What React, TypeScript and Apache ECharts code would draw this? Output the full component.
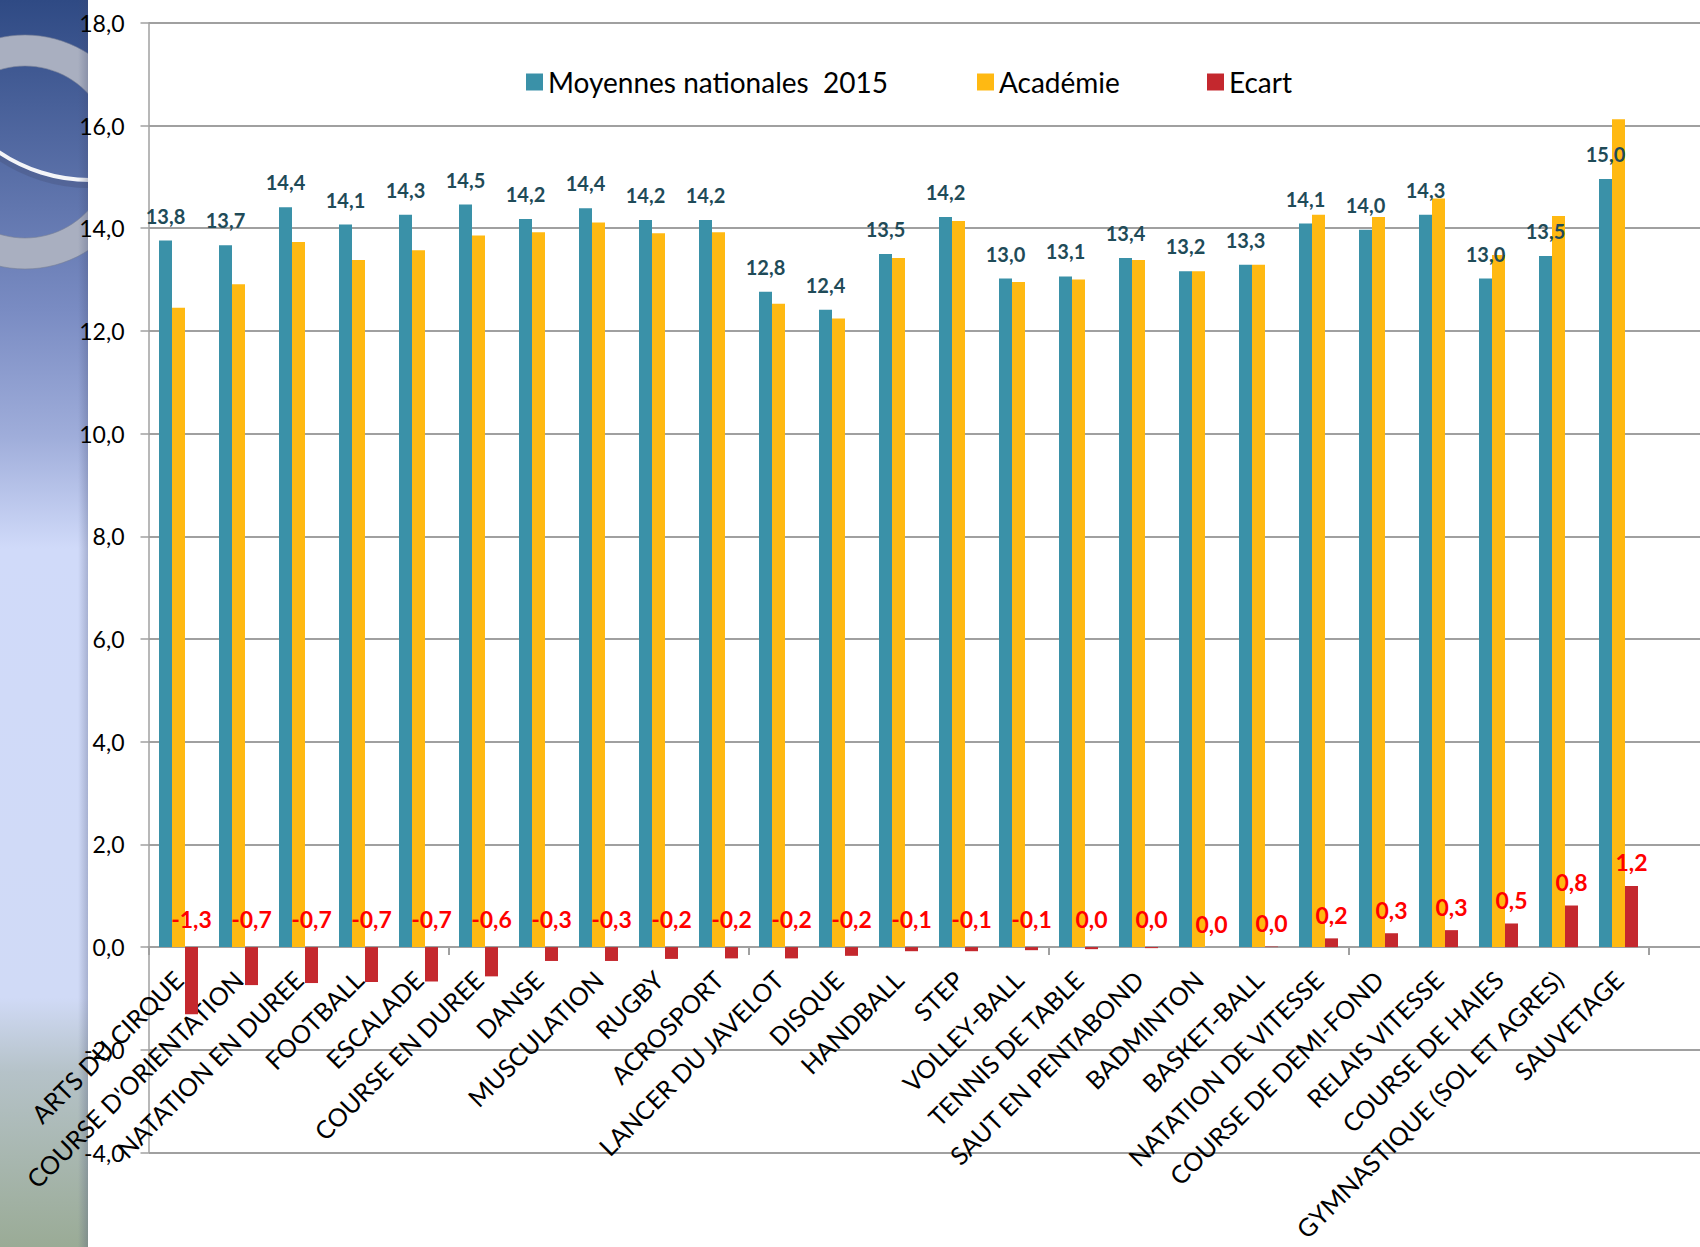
import React, { useEffect, useRef } from "react";
import * as echarts from "echarts";

const categories = [
  "ARTS DU CIRQUE",
  "COURSE D'ORIENTATION",
  "NATATION EN DUREE",
  "FOOTBALL",
  "ESCALADE",
  "COURSE EN DUREE",
  "DANSE",
  "MUSCULATION",
  "RUGBY",
  "ACROSPORT",
  "LANCER DU JAVELOT",
  "DISQUE",
  "HANDBALL",
  "STEP",
  "VOLLEY-BALL",
  "TENNIS DE TABLE",
  "SAUT EN PENTABOND",
  "BADMINTON",
  "BASKET-BALL",
  "NATATION DE VITESSE",
  "COURSE DE DEMI-FOND",
  "RELAIS VITESSE",
  "COURSE DE HAIES",
  "GYMNASTIQUE (SOL ET AGRES)",
  "SAUVETAGE",
];

const nationales = [
  13.76, 13.67, 14.41, 14.07, 14.26, 14.46, 14.18, 14.39, 14.16, 14.16, 12.76, 12.41, 13.5,
  14.22, 13.02, 13.06, 13.42, 13.16, 13.29, 14.09, 13.97, 14.26, 13.02, 13.46, 14.96,
];

const academie = [
  12.45, 12.91, 13.73, 13.38, 13.57, 13.86, 13.92, 14.11, 13.9, 13.92, 12.53, 12.24, 13.42,
  14.14, 12.95, 13.0, 13.38, 13.16, 13.29, 14.26, 14.22, 14.58, 13.48, 14.24, 16.12,
];

const ecart = [
  -1.31, -0.74, -0.7, -0.68, -0.67, -0.57, -0.27, -0.27, -0.23, -0.22, -0.22, -0.17, -0.08,
  -0.08, -0.06, -0.04, -0.02, 0.0, 0.01, 0.17, 0.27, 0.33, 0.46, 0.81, 1.19,
];

const yTicks = { min: -4, max: 18, interval: 2 };

const seriesNames = ["Moyennes nationales  2015", "Académie", "Ecart"];

const FONT = 'Lato, "Open Sans", "DejaVu Sans", sans-serif';

const fmt = (v: number) => {
  let s = Number(v).toFixed(1);
  if (s === "-0.0") s = "0.0";
  return s.replace(".", ",");
};

const GRID_TOP = 22.8;
const GRID_BOTTOM = 94.5;
const CHART_H = 1247;

export default function App() {
  const ref = useRef<HTMLDivElement>(null);

  useEffect(() => {
    if (!ref.current) return;
    const chart = echarts.init(ref.current, null, { renderer: "svg" });

    // offset of the label axis so that labels hang from the zero line
    const plotH = CHART_H - GRID_TOP - GRID_BOTTOM;
    const zeroFromBottom = (plotH * (0 - yTicks.min)) / (yTicks.max - yTicks.min);

    const legendBase = {
      top: 63,
      icon: "rect",
      itemWidth: 17,
      itemHeight: 17,
      itemGap: 10,
      textStyle: { fontSize: 28, color: "#000", fontFamily: FONT },
    };

    const option: any = {
      animation: false,
      backgroundColor: "#fff",
      graphic: {
        elements: [
          {
            type: "rect",
            z: -10,
            shape: { x: 0, y: 0, width: 88, height: 1247 },
            style: {
              fill: new echarts.graphic.LinearGradient(0, 0, 0, 1, [
                { offset: 0, color: "#2f4a84" },
                { offset: 0.25, color: "#7a8cc3" },
                { offset: 0.35, color: "#9fadda" },
                { offset: 0.44, color: "#d0daf9" },
                { offset: 0.8, color: "#d0daf6" },
                { offset: 0.86, color: "#b5c2c8" },
                { offset: 1, color: "#9aab96" },
              ]),
            },
          },
          {
            type: "ring",
            z: -9,
            shape: { cx: 25, cy: 152, r: 117, r0: 86 },
            style: { fill: "#a9afc0", stroke: "rgba(120,128,150,0.6)", lineWidth: 1 },
          },
          {
            type: "arc",
            z: -8,
            shape: { cx: 90, cy: 22, r: 163, startAngle: 1.5, endAngle: 2.25, clockwise: true },
            style: { stroke: "rgba(70,80,120,0.35)", lineWidth: 6, fill: null },
          },
          {
            type: "arc",
            z: -7,
            shape: { cx: 90, cy: 17, r: 163, startAngle: 1.5, endAngle: 2.25, clockwise: true },
            style: { stroke: "#f4f5f8", lineWidth: 4, fill: null },
          },
          {
            type: "rect",
            z: -6,
            shape: { x: 88, y: 0, width: 55, height: 300 },
            style: { fill: "#ffffff" },
          },
          {
            type: "rect",
            z: -5,
            shape: { x: 78, y: 0, width: 10, height: 1247 },
            style: {
              fill: new echarts.graphic.LinearGradient(0, 0, 1, 0, [
                { offset: 0, color: "rgba(60,70,110,0)" },
                { offset: 1, color: "rgba(60,70,110,0.28)" },
              ]),
            },
          },
        ],
      },
      legend: [
        { ...legendBase, left: 521, data: [seriesNames[0]] },
        { ...legendBase, left: 972, data: [seriesNames[1]] },
        { ...legendBase, left: 1202, data: [seriesNames[2]] },
      ],
      grid: {
        left: 148.5,
        top: GRID_TOP,
        right: -8.5,
        bottom: GRID_BOTTOM,
        containLabel: false,
        outerBoundsMode: "none",
      },
      xAxis: [
        {
          type: "category",
          data: [...categories, ""],
          axisLine: { onZero: true, lineStyle: { color: "#a0a0a0", width: 2 } },
          axisTick: { show: true, length: 8, lineStyle: { color: "#a0a0a0", width: 2 } },
          axisLabel: { show: false },
          splitLine: { show: false },
        },
        {
          type: "category",
          position: "bottom",
          offset: -zeroFromBottom,
          data: [...categories, ""],
          axisLine: { show: false, onZero: false },
          axisTick: { show: false },
          splitLine: { show: false },
          axisLabel: {
            rotate: 45,
            interval: 0,
            margin: 28,
            fontSize: 25,
            color: "#000",
            fontFamily: FONT,
            hideOverlap: false,
          },
        },
      ],
      yAxis: {
        type: "value",
        min: yTicks.min,
        max: yTicks.max,
        interval: yTicks.interval,
        axisLine: { show: true, lineStyle: { color: "#a0a0a0", width: 1.5 } },
        axisTick: { show: true, length: 8, lineStyle: { color: "#a0a0a0", width: 1.5 } },
        splitLine: { show: true, lineStyle: { color: "#a0a0a0", width: 2 } },
        axisLabel: {
          formatter: (v: number) => fmt(v),
          fontSize: 23,
          margin: 24,
          color: "#000",
          fontFamily: FONT,
        },
      },
      series: [
        {
          name: seriesNames[0],
          type: "bar",
          data: nationales,
          barGap: "0%",
          barCategoryGap: "35%",
          itemStyle: { color: "#3a91a8" },
          label: {
            show: true,
            position: "top",
            distance: 15,
            formatter: (p: any) => fmt(p.value),
            color: "#1f4b58",
            fontWeight: "bold",
            fontSize: 20,
            fontFamily: FONT,
          },
        },
        {
          name: seriesNames[1],
          type: "bar",
          data: academie,
          barGap: "0%",
          barCategoryGap: "35%",
          itemStyle: { color: "#ffb912" },
        },
        {
          name: seriesNames[2],
          type: "bar",
          data: ecart.map((v) => ({ value: v, label: { distance: v < 0 ? 17 : 12 } })),
          barGap: "0%",
          barCategoryGap: "35%",
          itemStyle: { color: "#c4282e" },
          label: {
            show: true,
            position: "top",
            formatter: (p: any) => fmt(p.value),
            color: "#ff0000",
            fontWeight: "bold",
            fontSize: 23,
            fontFamily: FONT,
          },
        },
      ],
    };

    chart.setOption(option);
    return () => chart.dispose();
  }, []);

  return (
    <div
      ref={ref}
      style={{ position: "fixed", left: 0, top: 0, width: 1700, height: 1247 }}
    />
  );
}
